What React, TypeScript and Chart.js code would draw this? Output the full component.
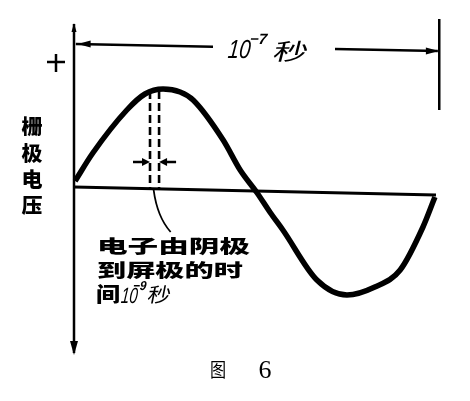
import React, { useEffect, useRef } from "react";
import { Chart, registerables } from "chart.js";

Chart.register(...registerables);

// time in units of 10^-8 s (one full period = 10^-7 s), voltage normalised to peak ≈ 1
const curveTime = [0.03, 0.52, 1.46, 1.96, 2.46, 2.93, 3.29, 4.12, 4.59, 5.06, 5.41, 5.77, 6.71, 7.54, 8.31, 9.01, 9.64, 9.97];
const curveVoltage = [0.06, 0.34, 0.77, 0.93, 0.98, 0.95, 0.87, 0.47, 0.17, -0.06, -0.25, -0.43, -0.93, -1.08, -1.0, -0.83, -0.4, -0.1];
const baselineTime = [0, 10];
const baselineVoltage = [0, -0.08];
const axisVoltage = [1.63, -1.66];
const transitTimes = [2.1, 2.35];
const transitTop = 0.96;
const transitBottom = -0.03;
const periodStart = 0;
const periodEnd = 10;
const yLabelChars = ["栅", "极", "电", "压"];
const noteLines = ["电子由阴极", "到屏极的时"];
const noteLast = { word: "间", base: "10", exp: "−9", unit: "秒" };
const periodLabel = { base: "10", exp: "−7", unit: "秒" };
const captionText = ["图", "6"];

const CJK = "'Noto Sans CJK SC'";

function txt(ctx: CanvasRenderingContext2D, s: string, x: number, y: number, font: string, sx = 1, skew = 0, align: CanvasTextAlign = "left") {
  ctx.save();
  ctx.translate(x, y);
  ctx.transform(sx, 0, skew, 1, 0, 0);
  ctx.font = font;
  ctx.textAlign = align;
  ctx.textBaseline = "middle";
  ctx.fillStyle = "#000";
  ctx.fillText(s, 0, 0);
  ctx.restore();
}

function arrowHead(ctx: CanvasRenderingContext2D, tipX: number, tipY: number, dx: number, dy: number, len: number, half: number) {
  const n = Math.hypot(dx, dy);
  const ux = dx / n, uy = dy / n;
  const bx = tipX - ux * len, by = tipY - uy * len;
  ctx.beginPath();
  ctx.moveTo(tipX, tipY);
  ctx.lineTo(bx - uy * half, by + ux * half);
  ctx.lineTo(bx + uy * half, by - ux * half);
  ctx.closePath();
  ctx.fill();
}

const decor = {
  id: "decor",
  afterDatasetsDraw(chart: any) {
    const ctx: CanvasRenderingContext2D = chart.ctx;
    const xs = chart.scales.x, ys = chart.scales.y;
    const X = (v: number) => xs.getPixelForValue(v);
    const Y = (v: number) => ys.getPixelForValue(v);
    ctx.save();
    ctx.fillStyle = "#000";
    ctx.strokeStyle = "#000";
    ctx.lineCap = "butt";

    // vertical axis arrowheads
    arrowHead(ctx, X(0), Y(axisVoltage[1]) + 2, 0, 1, 14, 4);
    arrowHead(ctx, X(0), Y(axisVoltage[0]) - 1, 0, -1, 9, 2.5);

    // period dimension line
    const yL = 1.43, yR = 1.36;
    const yAt = (t: number) => yL + (yR - yL) * (t - periodStart) / (periodEnd - periodStart);
    ctx.lineWidth = 2.5;
    const gapA = 3.84, gapB = 7.21;
    ctx.beginPath();
    ctx.moveTo(X(periodStart + 0.05), Y(yAt(periodStart)));
    ctx.lineTo(X(gapA), Y(yAt(gapA)));
    ctx.moveTo(X(gapB), Y(yAt(gapB)));
    ctx.lineTo(X(periodEnd + 0.05), Y(yAt(periodEnd)));
    ctx.stroke();
    arrowHead(ctx, X(periodStart + 0.1), Y(yAt(periodStart)), -1, 0, 13, 3.5);
    arrowHead(ctx, X(periodEnd + 0.08), Y(yAt(periodEnd)), 1, 0, 13, 3.5);
    // right end marker
    ctx.lineWidth = 2.5;
    ctx.beginPath();
    ctx.moveTo(X(periodEnd + 0.09), Y(1.68));
    ctx.lineTo(X(periodEnd + 0.09), Y(0.77));
    ctx.stroke();

    // period label
    txt(ctx, periodLabel.base, 228, 51, "italic 26px 'Liberation Sans'", 0.78, -0.1);
    txt(ctx, periodLabel.exp, 250, 40, "italic bold 15px 'Liberation Sans'", 1.0, -0.1);
    txt(ctx, periodLabel.unit, 274, 51, `23px ${CJK}`, 1.5, -0.25);

    // plus sign
    ctx.lineWidth = 2.5;
    ctx.beginPath();
    ctx.moveTo(47, 62); ctx.lineTo(65, 62);
    ctx.moveTo(56, 54); ctx.lineTo(56, 72);
    ctx.stroke();

    // transit arrows
    const ay = Y(0.25);
    ctx.lineWidth = 2.5;
    ctx.beginPath();
    ctx.moveTo(X(1.63), ay); ctx.lineTo(X(transitTimes[0]) - 4, ay);
    ctx.moveTo(X(2.82), ay); ctx.lineTo(X(transitTimes[1]) + 4, ay);
    ctx.stroke();
    arrowHead(ctx, X(transitTimes[0]), ay, 1, 0, 8, 4);
    arrowHead(ctx, X(transitTimes[1]), ay, -1, 0, 8, 4);

    // leader line
    ctx.lineWidth = 1.8;
    ctx.beginPath();
    ctx.moveTo(X(2.2), Y(-0.03));
    ctx.quadraticCurveTo(X(2.3), Y(-0.3), X(2.67), Y(-0.45));
    ctx.stroke();

    // y label
    const yc = [126, 153, 179, 205];
    yLabelChars.forEach((c, i) => txt(ctx, c, 32, yc[i], `900 20px ${CJK}`, 1.05, 0, "center"));

    // note
    txt(ctx, noteLines[0], 97, 246, `900 18px ${CJK}`, 1.7);
    txt(ctx, noteLines[1], 97, 270, `900 18px ${CJK}`, 1.62);
    txt(ctx, noteLast.word, 96, 294, `900 20px ${CJK}`, 1.2);
    txt(ctx, noteLast.base, 121, 297, "italic 22px 'Liberation Sans'", 0.68, -0.1);
    txt(ctx, noteLast.exp, 133, 286, "italic bold 13px 'Liberation Sans'", 0.9, -0.1);
    txt(ctx, noteLast.unit, 148, 294, `20px ${CJK}`, 1.15, -0.2);

    // caption
    txt(ctx, captionText[0], 218, 370, `19px ${CJK}`, 0.85, 0, "center");
    txt(ctx, captionText[1], 265, 371, "26px 'Liberation Serif'", 1, 0, "center");

    ctx.restore();
  },
};

export default function App() {
  const ref = useRef<HTMLCanvasElement | null>(null);
  useEffect(() => {
    if (!ref.current) return;
    const line = (xs: number[], ys: number[]) => xs.map((x, i) => ({ x, y: ys[i] }));
    const chart = new Chart(ref.current, {
      type: "line",
      data: {
        datasets: [
          {
            data: line(curveTime, curveVoltage),
            borderColor: "#000",
            borderWidth: 5.5,
            pointRadius: 0,
            cubicInterpolationMode: "monotone",
            fill: false,
          },
          {
            data: line(baselineTime, baselineVoltage),
            borderColor: "#000",
            borderWidth: 3,
            pointRadius: 0,
            tension: 0,
          },
          {
            data: line([0, 0], axisVoltage),
            borderColor: "#000",
            borderWidth: 2.5,
            pointRadius: 0,
            tension: 0,
          },
          ...transitTimes.map((t) => ({
            data: line([t, t], [transitTop, transitBottom]),
            borderColor: "#000",
            borderWidth: 2.6,
            borderDash: [8, 4],
            pointRadius: 0,
            tension: 0,
          })),
        ] as any,
      },
      options: {
        animation: false,
        responsive: false,
        maintainAspectRatio: false,
        layout: { padding: { left: 74, right: 34, top: 17, bottom: 46 } },
        scales: {
          x: { type: "linear", min: 0, max: 10, display: false },
          y: { type: "linear", min: -1.68, max: 1.7, display: false },
        },
        plugins: { legend: { display: false }, tooltip: { enabled: false } },
        datasets: { line: { clip: false } as any },
      } as any,
      plugins: [decor],
    });
    return () => chart.destroy();
  }, []);
  return (
    <div style={{ position: "fixed", left: 0, top: 0, width: 470, height: 401, background: "#fff" }}>
      <canvas ref={ref} width={470} height={401} style={{ display: "block", width: 470, height: 401 }} />
    </div>
  );
}
